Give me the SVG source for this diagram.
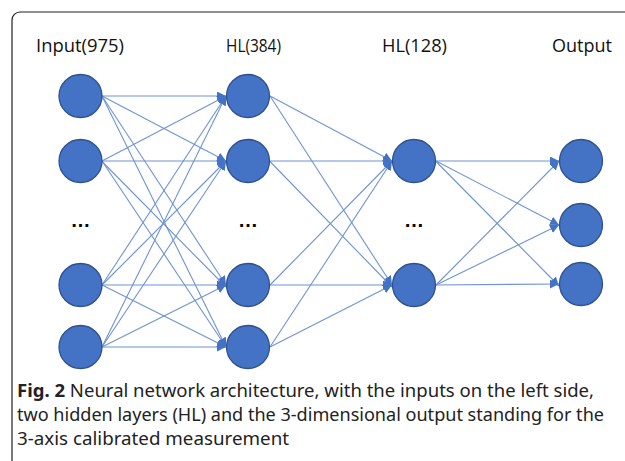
<svg xmlns="http://www.w3.org/2000/svg" width="625" height="461" viewBox="0 0 625 461">
<defs>
<marker id="ah" viewBox="0 0 10 10" refX="10" refY="5" markerWidth="9" markerHeight="9" markerUnits="userSpaceOnUse" orient="auto">
<path d="M0,0 L10,5 L0,10 z" fill="#4472C4"/>
</marker>
<style>
.n{fill:#4472C4;stroke:#2F528F;stroke-width:1.3}
.c path{fill:none;stroke:#6F93D4;stroke-width:1.1;marker-end:url(#ah)}
.lbl{font-family:"Open Sans","Liberation Sans",sans-serif;font-size:19px;fill:#111}
.dots{font-family:"Liberation Sans",sans-serif;font-size:20px;font-weight:bold;fill:#000;text-anchor:middle}
.cap{font-family:"Noto Sans","Open Sans","Liberation Sans",sans-serif;font-size:18px;fill:#222}
</style>
</defs>
<rect width="625" height="461" fill="#fff"/>
<rect x="12" y="12" width="640" height="470" rx="8" fill="none" stroke="#222" stroke-width="1.2"/>
<text class="lbl" x="36" y="52" textLength="88" lengthAdjust="spacingAndGlyphs">Input(975)</text>
<text class="lbl" x="226" y="52" textLength="55" lengthAdjust="spacingAndGlyphs">HL(384)</text>
<text class="lbl" x="382" y="52" textLength="65" lengthAdjust="spacingAndGlyphs">HL(128)</text>
<text class="lbl" x="552" y="52" textLength="60" lengthAdjust="spacingAndGlyphs">Output</text>
<g id="connectors" class="c">
<path d="M102,96 L226,96"/><path d="M102,96 L226,161"/><path d="M102,96 L226,285"/><path d="M102,96 L226,347"/>
<path d="M102,161 L226,96"/><path d="M102,161 L226,161"/><path d="M102,161.5 L226,287"/><path d="M102,161 L226,347"/>
<path d="M102,285 L226,96"/><path d="M102,285 L226,161"/><path d="M102,285 L226,285"/><path d="M102,285 L226,347"/>
<path d="M102,347 L226,96"/><path d="M102,347 L226,161"/><path d="M102,347 L226,285"/><path d="M102,347 L226,347"/>
<path d="M270,96 L392,161"/><path d="M270,96 L392,285"/>
<path d="M270,161 L392,161"/><path d="M270,161.5 L392,287"/>
<path d="M270,285 L392,161"/><path d="M270,285 L392,285"/>
<path d="M270,347 L392,161"/><path d="M270,347 L392,285"/>
<path d="M436,161 L559,161"/><path d="M436,161 L559,225"/><path d="M436,161.5 L559,286"/>
<path d="M436,285 L559,161"/><path d="M436,285 L559,225"/><path d="M436,285 L559,284"/>
</g>
<g id="in1"><circle class="n" cx="80.5" cy="96" r="21.5"/></g>
<g id="in2"><circle class="n" cx="80.5" cy="161" r="21.5"/></g>
<g id="in3"><circle class="n" cx="80.5" cy="285" r="21.5"/></g>
<g id="in4"><circle class="n" cx="80.5" cy="347" r="21.5"/></g>
<g id="h1a"><circle class="n" cx="248" cy="96" r="21.5"/></g>
<g id="h1b"><circle class="n" cx="248" cy="161" r="21.5"/></g>
<g id="h1c"><circle class="n" cx="248" cy="285" r="21.5"/></g>
<g id="h1d"><circle class="n" cx="248" cy="347" r="21.5"/></g>
<g id="h2a"><circle class="n" cx="414" cy="161" r="21.5"/></g>
<g id="h2b"><circle class="n" cx="414" cy="285" r="21.5"/></g>
<g id="o1"><circle class="n" cx="581" cy="161" r="21.5"/></g>
<g id="o2"><circle class="n" cx="581" cy="225" r="21.5"/></g>
<g id="o3"><circle class="n" cx="581" cy="284" r="21.5"/></g>
<text class="dots" x="80.5" y="227">…</text>
<text class="dots" x="248" y="227">…</text>
<text class="dots" x="414" y="227">…</text>
<text class="cap" x="17" y="397" textLength="577" lengthAdjust="spacingAndGlyphs"><tspan font-weight="bold">Fig. 2</tspan>   Neural network architecture, with the inputs on the left side,</text>
<text class="cap" x="17" y="421" textLength="587" lengthAdjust="spacingAndGlyphs">two hidden layers (HL) and the 3-dimensional output standing for the</text>
<text class="cap" x="17" y="445" textLength="272" lengthAdjust="spacingAndGlyphs">3-axis calibrated measurement</text>
</svg>
